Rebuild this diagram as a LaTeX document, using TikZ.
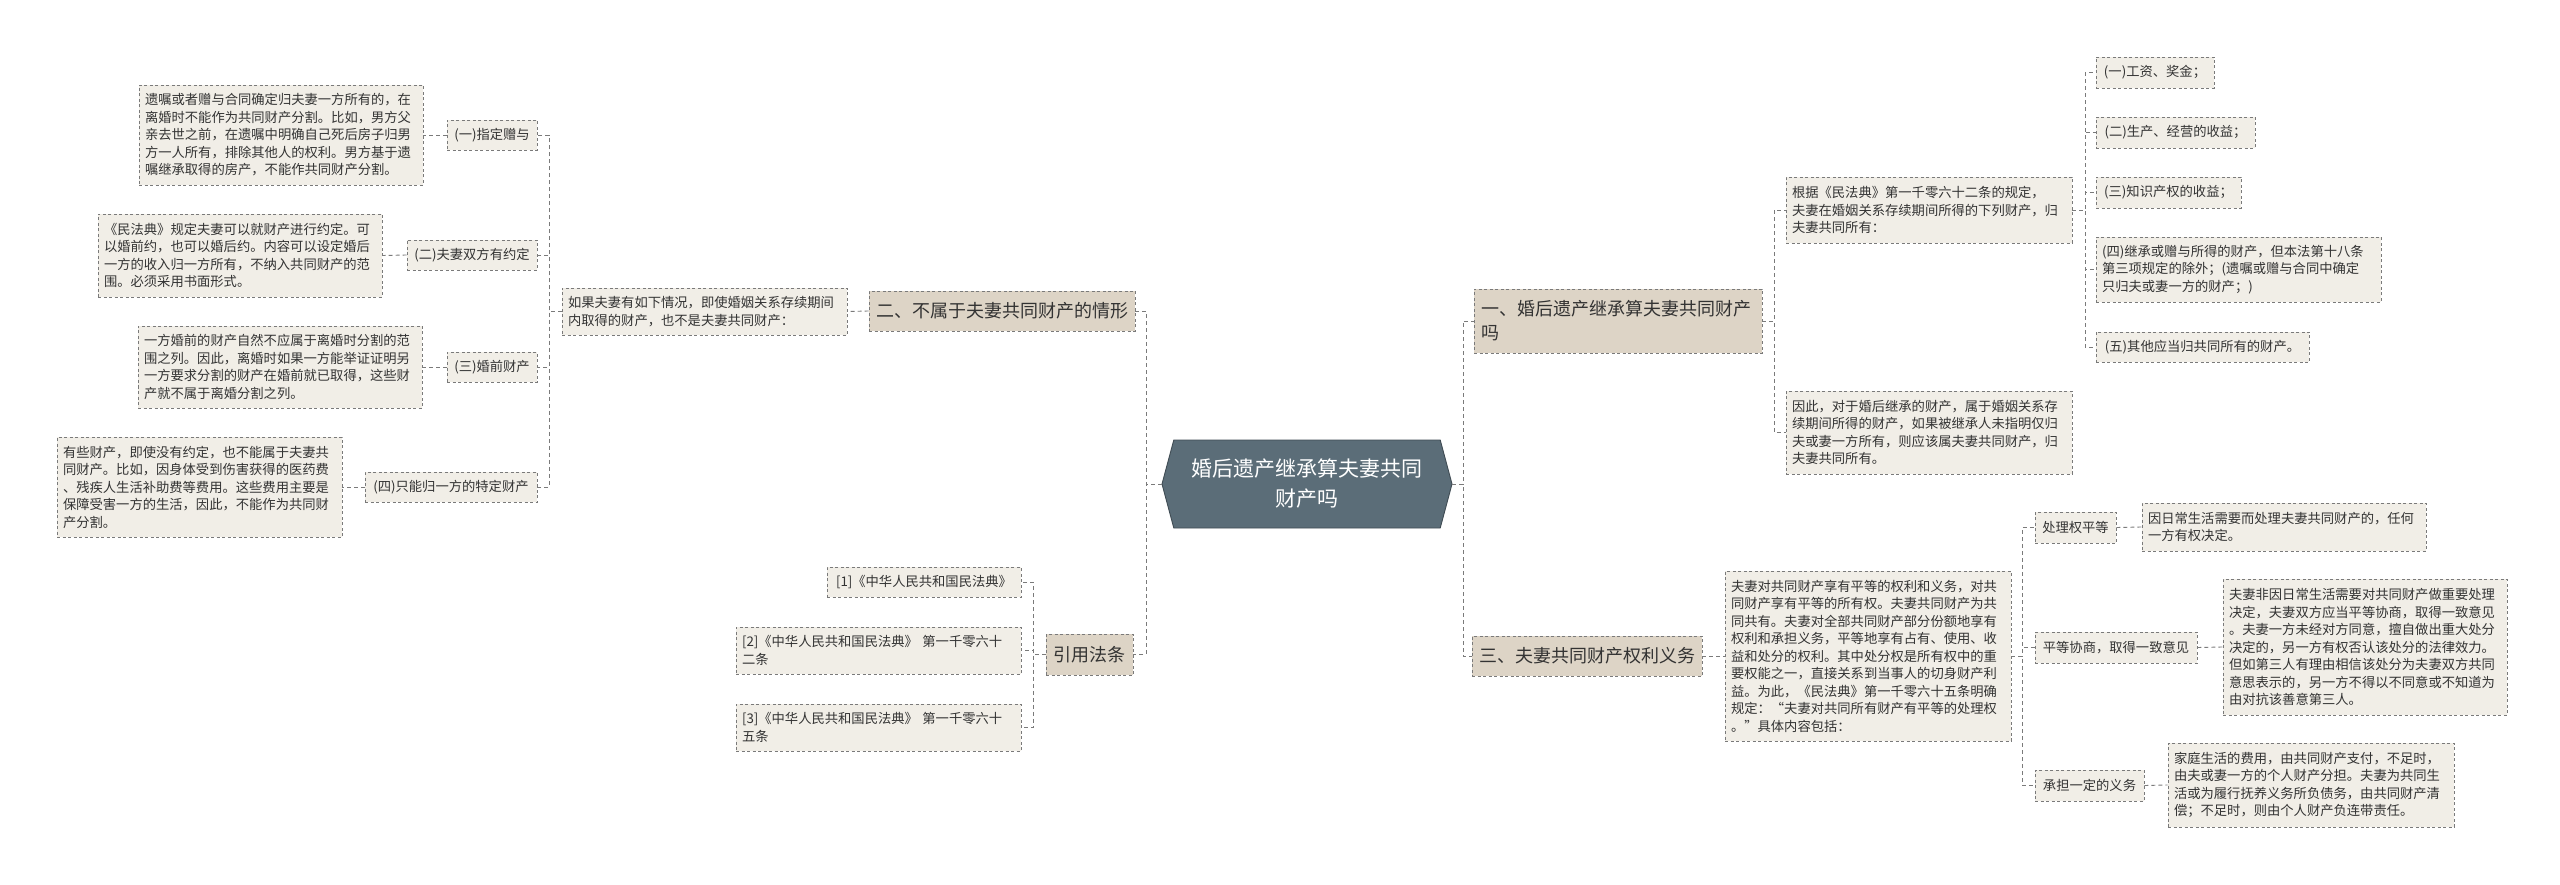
\documentclass[tikz,border=0pt]{standalone}
\usepackage{fontspec}
\setmainfont{Noto Sans CJK SC}
\usetikzlibrary{shapes.symbols}
\definecolor{leafc}{HTML}{F1EEE7}
\definecolor{mainc}{HTML}{DDD4C6}
\definecolor{bordc}{HTML}{7A7A7A}
\definecolor{cenc}{HTML}{5B6D78}
\definecolor{txtc}{HTML}{333333}
\tikzset{
  x=1pt,y=1pt,
  base/.style={draw=bordc, dashed, dash pattern=on 3pt off 2.5pt, line width=0.9pt, text=txtc, anchor=center},
  leaf/.style={base, fill=leafc, font=\fontsize{13.3}{17.5}\selectfont, align=left, inner xsep=6pt, inner ysep=3pt},
  lbl/.style={base, fill=leafc, font=\fontsize{13.3}{17.5}\selectfont, align=center, inner xsep=4pt, inner ysep=3pt},
  mainb/.style={base, fill=mainc, font=\fontsize{18}{24}\selectfont, align=left, inner xsep=7pt, inner ysep=3pt},
  cen/.style={signal, signal to=east and west, signal pointer angle=150, draw=cenc!70!black, fill=cenc, text=white, font=\fontsize{21}{30}\selectfont, align=center, line width=0.9pt},
  conn/.style={draw=bordc, dashed, dash pattern=on 4pt off 3pt, line width=0.9pt}
}
\begin{document}
\begin{tikzpicture}
\useasboundingbox[fill=white] (0,0) rectangle (2560,-885);
% center
\node[cen, minimum width=290, minimum height=88] (C) at (1307,-484) {婚后遗产继承算夫妻共同\\财产吗};
% left side
\node[mainb, minimum width=262, minimum height=40, align=center] (M2) at (1002,-311) {二、不属于夫妻共同财产的情形};
\node[mainb, minimum width=87, minimum height=41, align=center] (M4) at (1089.5,-654.5) {引用法条};
\node[leaf, text width=273, minimum height=47] (B) at (704.5,-311.5) {如果夫妻有如下情况，即使婚姻关系存续期间\\内取得的财产，也不是夫妻共同财产：};
\node[lbl, minimum width=90, minimum height=30] (L1) at (492,-135) {(一)指定赠与};
\node[lbl, minimum width=130, minimum height=30] (L2) at (472,-255) {(二)夫妻双方有约定};
\node[lbl, minimum width=90, minimum height=30] (L3) at (492,-367) {(三)婚前财产};
\node[lbl, minimum width=172, minimum height=30] (L4) at (451,-487) {(四)只能归一方的特定财产};
\node[leaf, text width=272, minimum height=100] (A1) at (281,-135) {遗嘱或者赠与合同确定归夫妻一方所有的，在\\离婚时不能作为共同财产分割。比如，男方父\\亲去世之前，在遗嘱中明确自己死后房子归男\\方一人所有，排除其他人的权利。男方基于遗\\嘱继承取得的房产，不能作共同财产分割。};
\node[leaf, text width=272, minimum height=83] (A2) at (240,-255.5) {《民法典》规定夫妻可以就财产进行约定。可\\以婚前约，也可以婚后约。内容可以设定婚后\\一方的收入归一方所有，不纳入共同财产的范\\围。必须采用书面形式。};
\node[leaf, text width=272, minimum height=82] (A3) at (280,-367) {一方婚前的财产自然不应属于离婚时分割的范\\围之列。因此，离婚时如果一方能举证证明另\\一方要求分割的财产在婚前就已取得，这些财\\产就不属于离婚分割之列。};
\node[leaf, text width=273, minimum height=100] (A4) at (199.5,-487) {有些财产，即使没有约定，也不能属于夫妻共\\同财产。比如，因身体受到伤害获得的医药费\\、残疾人生活补助费等费用。这些费用主要是\\保障受害一方的生活，因此，不能作为共同财\\产分割。};
\node[lbl, minimum width=194, minimum height=30] (R1) at (924,-582) {[1]《中华人民共和国民法典》};
\node[leaf, text width=273, minimum height=47] (R2) at (878.5,-650.5) {[2]《中华人民共和国民法典》 第一千零六十\\二条};
\node[leaf, text width=273, minimum height=47] (R3) at (878.5,-727.5) {[3]《中华人民共和国民法典》 第一千零六十\\五条};
% right side
\node[mainb, text width=274, minimum height=64] (M1) at (1618,-321) {一、婚后遗产继承算夫妻共同财产\\吗};
\node[mainb, minimum width=226, minimum height=40, align=center] (M3) at (1587,-656) {三、夫妻共同财产权利义务};
\node[leaf, text width=274, minimum height=66] (G1) at (1929,-210) {根据《民法典》第一千零六十二条的规定，\\夫妻在婚姻关系存续期间所得的下列财产，归\\夫妻共同所有：};
\node[leaf, text width=274, minimum height=83] (G2) at (1929,-432.5) {因此，对于婚后继承的财产，属于婚姻关系存\\续期间所得的财产，如果被继承人未指明仅归\\夫或妻一方所有，则应该属夫妻共同财产，归\\夫妻共同所有。};
\node[leaf, minimum width=118, minimum height=31] (K1) at (2155,-72.5) {(一)工资、奖金；};
\node[leaf, minimum width=159, minimum height=31] (K2) at (2175.5,-132.5) {(二)生产、经营的收益；};
\node[leaf, minimum width=145, minimum height=31] (K3) at (2168.5,-192.5) {(三)知识产权的收益；};
\node[leaf, text width=273, minimum height=65] (K4) at (2238.5,-269.5) {(四)继承或赠与所得的财产，但本法第十八条\\第三项规定的除外；(遗嘱或赠与合同中确定\\只归夫或妻一方的财产；)};
\node[leaf, minimum width=213, minimum height=30] (K5) at (2202.5,-347) {(五)其他应当归共同所有的财产。};
\node[leaf, text width=274, minimum height=170] (S) at (1868,-656) {夫妻对共同财产享有平等的权利和义务，对共\\同财产享有平等的所有权。夫妻共同财产为共\\同共有。夫妻对全部共同财产部分份额地享有\\权利和承担义务，平等地享有占有、使用、收\\益和处分的权利。其中处分权是所有权中的重\\要权能之一，直接关系到当事人的切身财产利\\益。为此，《民法典》第一千零六十五条明确\\规定：“夫妻对共同所有财产有平等的处理权\\。”具体内容包括：};
\node[lbl, minimum width=81, minimum height=31] (P1) at (2075.5,-527.5) {处理权平等};
\node[lbl, minimum width=162, minimum height=31] (P2) at (2116,-647.5) {平等协商，取得一致意见};
\node[lbl, minimum width=109, minimum height=31] (P3) at (2089.5,-785.5) {承担一定的义务};
\node[leaf, text width=272, minimum height=48] (Q1) at (2284,-527) {因日常生活需要而处理夫妻共同财产的，任何\\一方有权决定。};
\node[leaf, text width=272, minimum height=136] (Q2) at (2365,-647) {夫妻非因日常生活需要对共同财产做重要处理\\决定，夫妻双方应当平等协商，取得一致意见\\。夫妻一方未经对方同意，擅自做出重大处分\\决定的，另一方有权否认该处分的法律效力。\\但如第三人有理由相信该处分为夫妻双方共同\\意思表示的，另一方不得以不同意或不知道为\\由对抗该善意第三人。};
\node[leaf, text width=274, minimum height=84] (Q3) at (2311,-785) {家庭生活的费用，由共同财产支付，不足时，\\由夫或妻一方的个人财产分担。夫妻为共同生\\活或为履行抚养义务所负债务，由共同财产清\\偿；不足时，则由个人财产负连带责任。};
% spines
\coordinate (sC) at (1146,0);
\coordinate (sR) at (1463,0);
\coordinate (sL) at (549,0);
\coordinate (sRef) at (1033,0);
\coordinate (sG) at (1774,0);
\coordinate (sK) at (2085,0);
\coordinate (sP) at (2022,0);
% connectors
\draw[conn] (C.west) -- (sC |- C.west) |- (M2.east);
\draw[conn] (C.west) -- (sC |- C.west) |- (M4.east);
\draw[conn] (C.east) -- (sR |- C.east) |- (M1.west);
\draw[conn] (C.east) -- (sR |- C.east) |- (M3.west);
\draw[conn] (M2.west) -- (B.east);
\draw[conn] (B.west) -- (sL |- B.west) |- (L1.east);
\draw[conn] (B.west) -- (sL |- B.west) |- (L2.east);
\draw[conn] (B.west) -- (sL |- B.west) |- (L3.east);
\draw[conn] (B.west) -- (sL |- B.west) |- (L4.east);
\draw[conn] (L1.west) -- (A1.east);
\draw[conn] (L2.west) -- (A2.east);
\draw[conn] (L3.west) -- (A3.east);
\draw[conn] (L4.west) -- (A4.east);
\draw[conn] (M4.west) -- (sRef |- M4.west) |- (R1.east);
\draw[conn] (M4.west) -- (sRef |- M4.west) |- (R2.east);
\draw[conn] (M4.west) -- (sRef |- M4.west) |- (R3.east);
\draw[conn] (M1.east) -- (sG |- M1.east) |- (G1.west);
\draw[conn] (M1.east) -- (sG |- M1.east) |- (G2.west);
\draw[conn] (G1.east) -- (sK |- G1.east) |- (K1.west);
\draw[conn] (G1.east) -- (sK |- G1.east) |- (K2.west);
\draw[conn] (G1.east) -- (sK |- G1.east) |- (K3.west);
\draw[conn] (G1.east) -- (sK |- G1.east) |- (K4.west);
\draw[conn] (G1.east) -- (sK |- G1.east) |- (K5.west);
\draw[conn] (M3.east) -- (S.west);
\draw[conn] (S.east) -- (sP |- S.east) |- (P1.west);
\draw[conn] (S.east) -- (sP |- S.east) |- (P2.west);
\draw[conn] (S.east) -- (sP |- S.east) |- (P3.west);
\draw[conn] (P1.east) -- (Q1.west);
\draw[conn] (P2.east) -- (Q2.west);
\draw[conn] (P3.east) -- (Q3.west);
\end{tikzpicture}
\end{document}
